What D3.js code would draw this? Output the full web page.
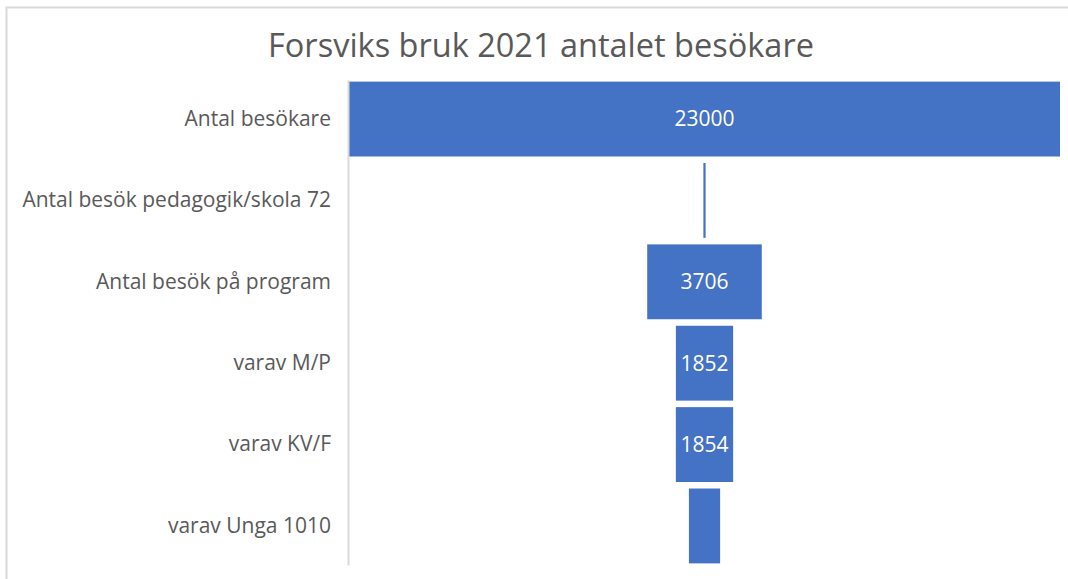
<!DOCTYPE html>
<html>
<head>
<meta charset="utf-8">
<script src="https://cdn.jsdelivr.net/npm/d3@7"></script>
<style>
  body { margin: 0; background: #fff; }
  svg { display: block; font-family: "Open Sans", "Noto Sans", sans-serif; }
</style>
</head>
<body>
<div class="chart"></div>
<script>
const title = "Forsviks bruk 2021 antalet besökare";
const categories = [
  "Antal besökare",
  "Antal besök pedagogik/skola 72",
  "Antal besök på program",
  "varav M/P",
  "varav KV/F",
  "varav Unga 1010"
];
const values = [23000, 72, 3706, 1852, 1854, 1010];

const dimensions = {
  width: 1068,
  height: 579,
  plot: { left: 349, right: 1060, top: 80, bottom: 565 }
};

const svg = d3.select('.chart').append('svg')
  .attr('width', dimensions.width)
  .attr('height', dimensions.height);

// chart frame (only top and left edges are visible in the crop)
svg.append('path')
  .attr('d', `M6.5,${dimensions.height} V7.5 H${dimensions.width}`)
  .attr('fill', 'none')
  .attr('stroke', '#d9d9d9')
  .attr('stroke-width', 2);

svg.append('text')
  .attr('x', 541)
  .attr('y', 57)
  .attr('text-anchor', 'middle')
  .attr('fill', '#595959')
  .style('font-size', '32.5px')
  .text(title);

const maxVal = d3.max(values);
const x = d3.scaleLinear()
  .domain([-maxVal / 2, maxVal / 2])
  .range([dimensions.plot.left, dimensions.plot.right]);

const y = d3.scaleBand()
  .domain(categories)
  .range([dimensions.plot.top, dimensions.plot.bottom])
  .paddingInner(0.08)
  .paddingOuter(0.02);

const data = categories.map((c, i) => ({ label: c, value: values[i] }));

svg.append('g')
  .selectAll('rect')
  .data(data)
  .join('rect')
  .attr('x', d => x(-d.value / 2))
  .attr('width', d => Math.max(1.5, x(d.value / 2) - x(-d.value / 2)))
  .attr('y', d => y(d.label))
  .attr('height', y.bandwidth())
  .attr('fill', '#4472c4');

// data labels only where they fit inside the bar
svg.append('g')
  .selectAll('text')
  .data(data.filter(d => x(d.value / 2) - x(-d.value / 2) > 45))
  .join('text')
  .attr('x', x(0))
  .attr('y', d => y(d.label) + y.bandwidth() / 2)
  .attr('dy', '0.35em')
  .attr('text-anchor', 'middle')
  .attr('fill', '#fff')
  .style('font-size', '21px')
  .text(d => d.value);

const axis = svg.append('g')
  .attr('transform', `translate(${dimensions.plot.left - 1},0)`)
  .call(d3.axisLeft(y).tickSize(0).tickPadding(17));
axis.select('.domain').attr('stroke', '#d9d9d9').attr('stroke-width', 2);
axis.selectAll('.tick text')
  .attr('fill', '#595959')
  .style('font-size', '21px')
  .style('font-family', '"Open Sans", "Noto Sans", sans-serif');
</script>
</body>
</html>
